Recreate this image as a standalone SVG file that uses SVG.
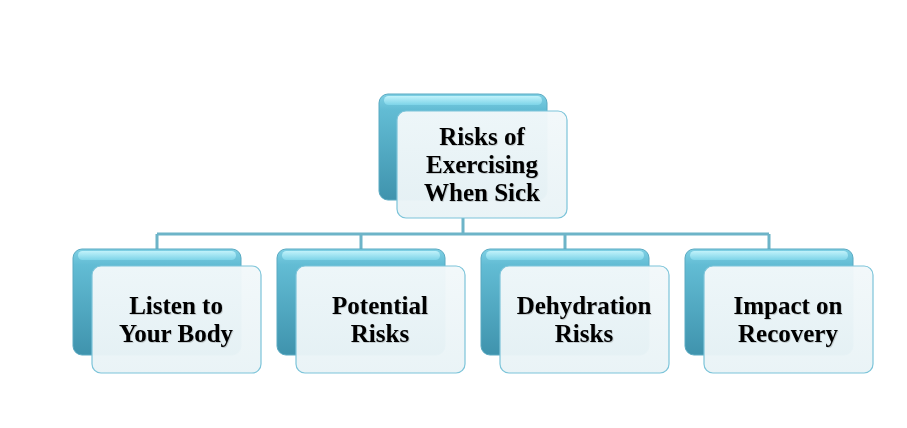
<svg xmlns="http://www.w3.org/2000/svg" width="907" height="428" viewBox="0 0 907 428">
<defs>
<linearGradient id="backG" x1="0" y1="0" x2="0" y2="1">
<stop offset="0" stop-color="#7fd0e4"/>
<stop offset="0.15" stop-color="#62bcd4"/>
<stop offset="1" stop-color="#3f93ad"/>
</linearGradient>
<linearGradient id="hiG" x1="0" y1="0" x2="0" y2="1">
<stop offset="0" stop-color="#c8f6fd"/>
<stop offset="1" stop-color="#7fd6ea"/>
</linearGradient>
<linearGradient id="frontG" x1="0" y1="0" x2="0" y2="1">
<stop offset="0" stop-color="#f2f8fa"/>
<stop offset="1" stop-color="#e9f3f6"/>
</linearGradient>
<filter id="ts" x="-10%" y="-10%" width="120%" height="130%">
<feDropShadow dx="0.8" dy="0.8" stdDeviation="0.5" flood-color="#000" flood-opacity="0.2"/>
</filter>
</defs>
<style>
.back{fill:url(#backG);stroke:#5aaac2;stroke-width:1}
.hi{fill:url(#hiG);opacity:0.9}
.front{fill:url(#frontG);fill-opacity:0.97;stroke:#7cc4d9;stroke-width:1.2}
.t{font-family:"Liberation Serif","Times New Roman",serif;font-weight:bold;font-size:25px;fill:#000;text-anchor:middle;filter:url(#ts)}
.c{stroke:#6db4c8;stroke-width:3;fill:none}
</style>
<g id="connectors">
<path class="c" d="M463 218 V234 M157 234 H769 M157 234 V250 M361 234 V250 M565 234 V250 M769 234 V250"/>
</g>
<g id="root">
<rect class="back" x="379" y="94" width="168" height="106" rx="9"/>
<rect class="hi" x="384" y="96" width="158" height="9" rx="4.5"/>
<rect class="front" x="397" y="111" width="170" height="107" rx="9"/>
<text class="t" x="482" y="145">Risks of</text>
<text class="t" x="482" y="173">Exercising</text>
<text class="t" x="482" y="201">When Sick</text>
</g>
<g id="n1">
<rect class="back" x="73" y="249" width="168" height="106" rx="9"/>
<rect class="hi" x="78" y="251" width="158" height="9" rx="4.5"/>
<rect class="front" x="92" y="266" width="169" height="107" rx="9"/>
<text class="t" x="176" y="314">Listen to</text>
<text class="t" x="176" y="342">Your Body</text>
</g>
<g id="n2">
<rect class="back" x="277" y="249" width="168" height="106" rx="9"/>
<rect class="hi" x="282" y="251" width="158" height="9" rx="4.5"/>
<rect class="front" x="296" y="266" width="169" height="107" rx="9"/>
<text class="t" x="380" y="314">Potential</text>
<text class="t" x="380" y="342">Risks</text>
</g>
<g id="n3">
<rect class="back" x="481" y="249" width="168" height="106" rx="9"/>
<rect class="hi" x="486" y="251" width="158" height="9" rx="4.5"/>
<rect class="front" x="500" y="266" width="169" height="107" rx="9"/>
<text class="t" x="584" y="314">Dehydration</text>
<text class="t" x="584" y="342">Risks</text>
</g>
<g id="n4">
<rect class="back" x="685" y="249" width="168" height="106" rx="9"/>
<rect class="hi" x="690" y="251" width="158" height="9" rx="4.5"/>
<rect class="front" x="704" y="266" width="169" height="107" rx="9"/>
<text class="t" x="788" y="314">Impact on</text>
<text class="t" x="788" y="342">Recovery</text>
</g>
</svg>
